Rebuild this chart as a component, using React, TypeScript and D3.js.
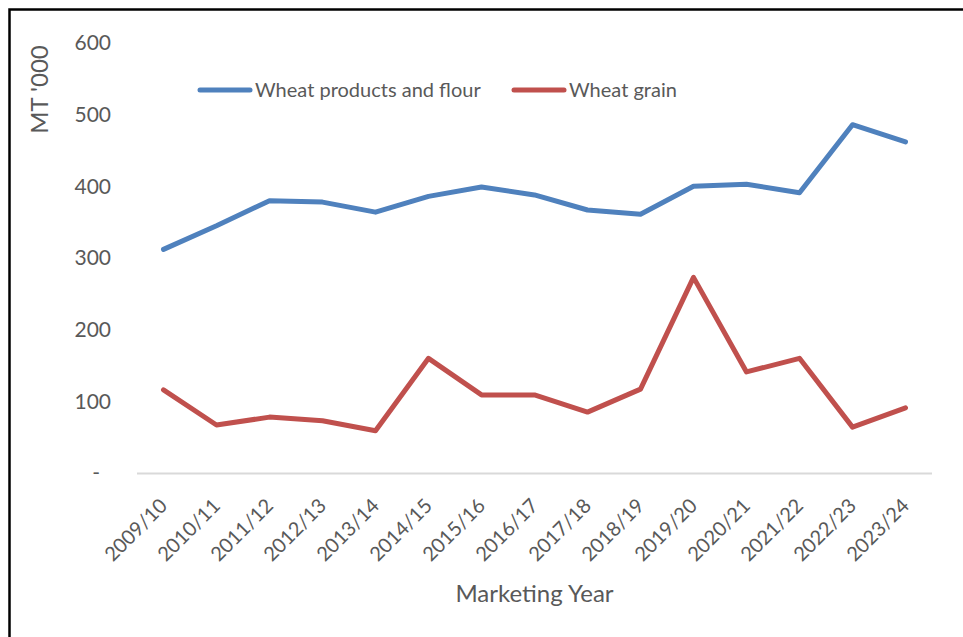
import React from "react";
import * as d3 from "d3";

const years = ["2009/10","2010/11","2011/12","2012/13","2013/14","2014/15","2015/16","2016/17","2017/18","2018/19","2019/20","2020/21","2021/22","2022/23","2023/24"];
const flour = [312, 345, 380, 378, 364, 386, 399, 388, 367, 361, 400, 403, 391, 486, 462];
const grain = [116, 67, 78, 73, 59, 160, 109, 109, 85, 117, 273, 141, 160, 64, 91];
const yTicks = [0, 100, 200, 300, 400, 500, 600];
const seriesNames = ["Wheat products and flour", "Wheat grain"];
const colors = ["#4f81bd", "#c0504d"];

const W = 963, H = 637;
const FONT = "Lato, 'DejaVu Sans', sans-serif";
const TXT = "#595959";

export default function App() {
  const x = d3.scalePoint<string>().domain(years).range([137, 932]).padding(0.5);
  const y = d3.scaleLinear().domain([0, 600]).range([473, 43]);
  const line = d3.line<number>()
    .x((_, i) => x(years[i]) as number)
    .y((d) => y(d));
  const series = [flour, grain];
  const legendX = [200, 514];
  return (
    <svg width={W} height={H} style={{ position: "absolute", left: 0, top: 0, background: "#fff" }} fontFamily={FONT}>
      <rect x={9.5} y={9.5} width={1200} height={1200} fill="#fff" stroke="#000" strokeWidth={2.5} />
      {/* y tick labels */}
      {yTicks.map((t) => (
        <text key={t} x={t === 0 ? 100 : 111} y={y(t)} dy="0.35em" textAnchor="end" fontSize={21} fill={TXT}>
          {t === 0 ? "-" : t}
        </text>
      ))}
      {/* x axis line */}
      <line x1={137} x2={932} y1={y(0) + 0.5} y2={y(0) + 0.5} stroke="#d9d9d9" strokeWidth={2} />
      {/* x labels */}
      {years.map((yr) => (
        <text key={yr} transform={`translate(${(x(yr) as number) + 5},${507}) rotate(-45)`} textAnchor="end" fontSize={20} fill={TXT}>
          {yr}
        </text>
      ))}
      {/* lines */}
      {series.map((s, i) => (
        <path key={i} d={line(s) || ""} fill="none" stroke={colors[i]} strokeWidth={5} strokeLinejoin="round" strokeLinecap="round" />
      ))}
      {/* legend */}
      {seriesNames.map((n, i) => (
        <g key={n}>
          <line x1={legendX[i]} x2={legendX[i] + 50} y1={90} y2={90} stroke={colors[i]} strokeWidth={5} strokeLinecap="round" />
          <text x={legendX[i] + 55} y={97} fontSize={20} fill={TXT}>{n}</text>
        </g>
      ))}
      {/* axis titles */}
      <text transform="translate(48,89.5) rotate(-90)" textAnchor="middle" fontSize={24} fill={TXT}>MT '000</text>
      <text x={534.5} y={602} textAnchor="middle" fontSize={24} fill={TXT}>Marketing Year</text>
    </svg>
  );
}
